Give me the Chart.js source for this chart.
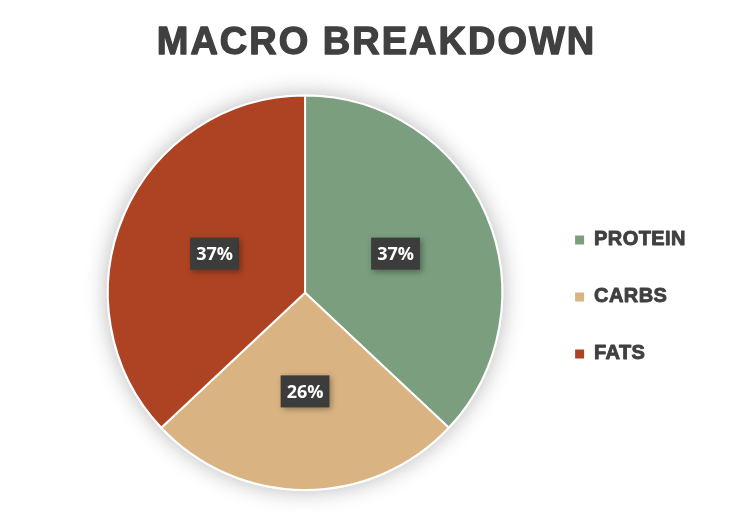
<!DOCTYPE html>
<html>
<head>
<meta charset="utf-8">
<script src="https://cdn.jsdelivr.net/npm/chart.js@4.4.1/dist/chart.umd.min.js"></script>
<style>
  html, body { margin: 0; padding: 0; background: #ffffff; }
  #wrap { width: 753px; height: 515px; }
</style>
</head>
<body>
<div id="wrap"><canvas id="c" width="753" height="515"></canvas></div>
<script>
const chartTitle = 'MACRO BREAKDOWN';
const categories = ['PROTEIN', 'CARBS', 'FATS'];
const values = [37, 26, 37];
const sliceColors = ['#7A9E7E', '#D9B382', '#AE4323'];

const TEXT_COLOR = '#404040';

// Makes the text of a layout box heavier (stroke), letter-spaced and optionally nudged
function heavyText(box, spacing, strokeW, dx) {
  if (!box || box.__heavy) return;
  box.__heavy = true;
  const orig = box.draw;
  box.draw = function (...args) {
    const ctx = this.ctx;
    ctx.save();
    ctx.translate(dx || 0, 0);
    ctx.letterSpacing = spacing;
    const protoFill = CanvasRenderingContext2D.prototype.fillText;
    ctx.fillText = function (t, x, y, m) {
      protoFill.call(ctx, t, x, y, m);
      ctx.save();
      ctx.lineWidth = strokeW;
      ctx.strokeStyle = ctx.fillStyle;
      ctx.lineJoin = 'round';
      if (m === undefined) ctx.strokeText(t, x, y); else ctx.strokeText(t, x, y, m);
      ctx.restore();
    };
    try { orig.apply(this, args); } finally {
      delete ctx.fillText;
      ctx.restore();
    }
  };
}

const pieShadow = {
  id: 'pieShadow',
  beforeDraw(chart) {
    heavyText(chart.titleBlock, '2px', 1.3, -6);
    heavyText(chart.legend, '0.4px', 0.9, 0);
  },
  beforeDatasetsDraw(chart) {
    const ctx = chart.ctx;
    const meta = chart.getDatasetMeta(0);
    const arc = meta.data[0];
    if (!arc) return;
    ctx.save();
    ctx.shadowColor = 'rgba(0,0,0,0.28)';
    ctx.shadowBlur = 22;
    ctx.shadowOffsetX = 0;
    ctx.shadowOffsetY = 0;
    ctx.fillStyle = '#ffffff';
    ctx.beginPath();
    ctx.arc(arc.x, arc.y, arc.outerRadius + 1, 0, Math.PI * 2);
    ctx.fill();
    ctx.restore();
  }
};

const boxLabels = {
  id: 'boxLabels',
  afterDatasetsDraw(chart) {
    const ctx = chart.ctx;
    const meta = chart.getDatasetMeta(0);
    const data = chart.data.datasets[0].data;
    const total = data.reduce((a, b) => a + b, 0);
    ctx.save();
    ctx.font = 'bold 18px "Open Sans", "DejaVu Sans", sans-serif';
    ctx.textAlign = 'center';
    ctx.textBaseline = 'middle';
    meta.data.forEach((arc, i) => {
      const p = arc.getCenterPoint();
      const txt = Math.round(data[i] / total * 100) + '%';
      const w = ctx.measureText(txt).width + 12;
      const h = 32;
      ctx.save();
      ctx.shadowColor = 'rgba(0,0,0,0.35)';
      ctx.shadowBlur = 6;
      ctx.shadowOffsetX = 2;
      ctx.shadowOffsetY = 2;
      ctx.fillStyle = '#3C3C3C';
      ctx.fillRect(p.x - w / 2, p.y - h / 2, w, h);
      ctx.restore();
      ctx.fillStyle = '#ffffff';
      ctx.fillText(txt, p.x, p.y + 1);
    });
    ctx.restore();
  }
};

new Chart(document.getElementById('c'), {
  type: 'pie',
  data: {
    labels: categories,
    datasets: [{
      data: values,
      backgroundColor: sliceColors,
      borderColor: '#ffffff',
      borderWidth: 2
    }]
  },
  options: {
    responsive: false,
    animation: false,
    devicePixelRatio: 1,
    layout: { padding: { left: 72, right: 60, top: 0, bottom: 24 } },
    plugins: {
      title: {
        display: true,
        text: chartTitle,
        color: TEXT_COLOR,
        font: { family: '"Liberation Sans", Arial, sans-serif', size: 38, weight: 'bold' },
        padding: { top: 21, bottom: 28 }
      },
      legend: {
        position: 'right',
        fullSize: false,
        title: { display: true, text: ' ', font: { size: 1 }, padding: { top: 0, bottom: 7 } },
        labels: {
          boxWidth: 9,
          boxHeight: 9,
          padding: 37,
          color: TEXT_COLOR,
          font: { family: '"Liberation Sans", Arial, sans-serif', size: 20, weight: 'bold' },
          generateLabels(chart) {
            const items = Chart.overrides.pie.plugins.legend.labels.generateLabels(chart);
            return items.map(it => Object.assign(it, { lineWidth: 0, strokeStyle: 'transparent' }));
          }
        }
      },
      tooltip: { enabled: false }
    }
  },
  plugins: [pieShadow, boxLabels]
});
</script>
</body>
</html>
